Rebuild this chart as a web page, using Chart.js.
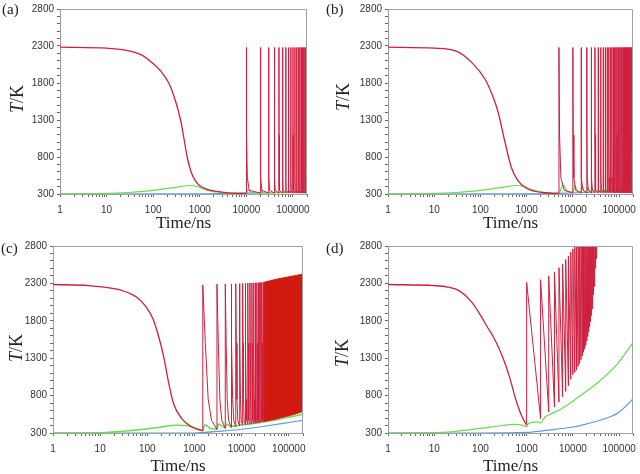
<!DOCTYPE html>
<html>
<head>
<meta charset="utf-8">
<script src="https://cdn.jsdelivr.net/npm/chart.js@4.4.0/dist/chart.umd.min.js"></script>
<style>
  html, body { margin: 0; padding: 0; background: #fff; }
  #wrap { position: relative; width: 640px; height: 474px; overflow: hidden; }
  canvas { position: absolute; }
  .tag { position: absolute; font: 15px "Liberation Serif", serif; color: #222; line-height: 15px; }
</style>
</head>
<body>
<div id="wrap">
  <canvas id="cA" width="320" height="237" style="left:0;top:0"></canvas>
  <canvas id="cB" width="320" height="237" style="left:320px;top:0"></canvas>
  <canvas id="cC" width="320" height="237" style="left:0;top:237px"></canvas>
  <canvas id="cD" width="320" height="237" style="left:320px;top:237px"></canvas>
  <div class="tag" style="left:2px;top:2px">(a)</div>
  <div class="tag" style="left:326px;top:2px">(b)</div>
  <div class="tag" style="left:1px;top:241px">(c)</div>
  <div class="tag" style="left:326px;top:241px">(d)</div>
</div>
<script>
// ── Data (time in ns, T in K) ──────────────────────────────
const yTicks = [300, 800, 1300, 1800, 2300, 2800];
const xLabels = [1, 10, 100, 1000, 10000, 100000];

// (a)
const mainTA = [1, 10, 30, 60, 100, 150, 216, 300, 387, 460, 536, 650, 800, 1000, 1500, 2400, 4000, 9990];
const mainA  = [2285, 2270, 2235, 2170, 2060, 1950, 1800, 1560, 1300, 1040, 800, 600, 480, 410, 360, 335, 315, 308];
const spikeTA = [10000, 20000, 30000, 40000, 50000, 60000, 70000, 80000, 90000, 100000,
                 110000, 120000, 130000, 140000, 150000, 160000, 170000, 180000, 190000, 200000];
const peakA = 2280;
const baseA = 312;
const greenTA = [1, 5, 30, 100, 300, 600, 900, 1300, 2000, 4000, 9990, 10800, 13000, 20000, 21000, 23000, 200000];
const greenA  = [300, 305, 320, 350, 390, 415, 400, 360, 330, 315, 310, 360, 318, 315, 350, 318, 325];
const blueTA = [1, 1000, 3000, 10000, 50000, 200000];
const blueA  = [300, 301, 305, 312, 322, 338];

// (b)
const mainTB = [1, 10, 30, 66, 126, 180, 240, 336, 465, 640, 1000, 2400, 4990];
const mainB  = [2285, 2270, 2230, 2072, 1851, 1640, 1411, 1014, 661, 485, 375, 317, 308];
const spikeTB = [5000, 10000, 15000, 20000, 25000, 30000, 35000, 40000, 45000, 50000,
                 55000, 60000, 65000, 70000, 75000, 80000, 85000, 90000, 95000, 100000,
                 105000, 110000, 115000, 120000, 125000, 130000, 135000, 140000, 145000, 150000,
                 155000, 160000, 165000, 170000, 175000, 180000, 185000, 190000, 195000, 200000];
const peakB = 2280;
const baseB = 315;
const greenTB = [1, 5, 30, 100, 300, 600, 900, 1300, 2000, 4000, 5000, 6100, 7500, 10000, 11000, 12500,
                 15000, 16000, 17500, 20000, 21000, 23000, 30000, 60000, 200000];
const greenB  = [300, 305, 320, 350, 390, 415, 400, 360, 330, 312, 310, 420, 340, 325, 420, 340,
                 330, 400, 340, 330, 390, 340, 345, 350, 355];
const blueTB = [1, 1000, 5000, 20000, 60000, 200000];
const blueB  = [300, 301, 308, 320, 335, 352];

// spike tail shape for (a) and (b): ns after the spike, K
const tailOffAB = [150, 500, 1500];
const tailAB    = [1100, 520, 350];

// (c)
const mainTC = [1, 5.7, 27, 60, 95, 131, 178, 225, 287, 360, 536, 855, 1200, 1500];
const mainC  = [2285, 2270, 2212, 2116, 1984, 1830, 1567, 1304, 954, 690, 493, 383, 345, 330];
const spikeTC = [1500, 3000, 4500, 6000, 7500, 9000, 10500, 12000, 13500, 15000,
                 16500, 18000, 19500, 21000, 22500, 24000, 25500, 27000, 28500, 30000];
const peakC = [2280, 2290, 2292, 2294, 2296, 2298, 2300, 2302, 2304, 2305,
               2306, 2307, 2308, 2309, 2310, 2311, 2312, 2313, 2314, 2315];
const minC  = [330, 348, 360, 372, 385, 395, 405, 410, 415, 420,
               424, 428, 432, 435, 438, 441, 444, 447, 450, 453];
const tailOffC = [200, 450, 800];
const tailC    = [1500, 750, 470];
const bandTC   = [30000, 40000, 60000, 80000, 100000, 140000, 200000];
const bandTopC = [2315, 2335, 2362, 2376, 2388, 2405, 2425];
const bandBotC = [453, 470, 495, 515, 530, 555, 590];
const greenTC = [1, 10, 40, 150, 400, 800, 1200, 1500, 1650, 2200, 3000, 3200, 4500, 4700, 6000,
                 10000, 20000, 30000, 60000, 100000, 200000];
const greenC  = [300, 305, 330, 370, 405, 395, 355, 330, 410, 360, 350, 420, 370, 420, 390,
                 410, 430, 450, 480, 510, 550];
const blueTC = [1, 1000, 1500, 3000, 10000, 30000, 100000, 200000];
const blueC  = [300, 300, 305, 320, 350, 390, 440, 470];

// (d)
const mainTD = [1, 10, 20, 35, 63, 100, 140, 200, 310, 430, 550, 700, 850, 1000];
const mainD  = [2285, 2270, 2250, 2200, 2060, 1875, 1720, 1560, 1300, 1040, 800, 600, 480, 405];
const spikeTD = [1000, 2000, 3000, 4000, 5000, 6000, 7000, 8000, 9000, 10000,
                 11000, 12000, 13000, 14000, 15000, 16000, 17000, 18000, 19000, 20000,
                 21000, 22000, 23000, 24000, 25000, 26000, 27000, 28000, 29000, 30000,
                 31000, 32000, 33000, 34000, 35000];
const peakD = [2313, 2349, 2401, 2454, 2510, 2554, 2620, 2664, 2717, 2760,
               2810, 2860, 2910, 2960, 3010, 3060, 3110, 3160, 3210, 3260,
               3310, 3360, 3410, 3460, 3510, 3560, 3610, 3660, 3710, 3760,
               3810, 3860, 3910, 3960, 4010];
const minD  = [405, 493, 580, 646, 712, 786, 856, 931, 1019, 1080,
               1110, 1140, 1190, 1230, 1280, 1330, 1380, 1420, 1470, 1530,
               1590, 1650, 1720, 1790, 1870, 1960, 2050, 2150, 2260, 2380,
               2500, 2630, 2770, 2900, 3050];
const greenTD = [1, 10, 24, 100, 300, 500, 800, 1000, 1100, 1300, 1700, 2000, 2500, 3000,
                 5700, 13000, 31600, 90000, 200000];
const greenD  = [300, 305, 317, 361, 400, 414, 405, 383, 430, 440, 450, 435, 514, 540,
                 624, 777, 954, 1217, 1510];
const blueTD = [1, 100, 1000, 3000, 10000, 16000, 30000, 60000, 90000, 130000, 200000];
const blueD  = [300, 300, 308, 339, 380, 405, 450, 510, 559, 640, 756];

// ── Helpers ───────────────────────────────────────────────
const RED = '#cf1f3e', RED_FILL = '#d31a10', GREEN = '#66dd50', BLUE = '#5b9bd8';

const pts = (xs, ys) => xs.map((x, i) => ({ x, y: ys[i] }));
const pick = (v, k) => Array.isArray(v) ? v[k] : v;

function spikeTrain(times, peaks, mins, offs, vals) {
  const out = [];
  times.forEach((t, k) => {
    out.push({ x: t, y: pick(mins, k) });
    out.push({ x: t, y: pick(peaks, k) });
    offs.forEach((o, j) => out.push({ x: t + o, y: vals[j] }));
  });
  return out;
}

const line = (data, color, width, smooth) => ({
  data, borderColor: color, borderWidth: width, pointRadius: 0, fill: false,
  tension: smooth ? 0.4 : 0, cubicInterpolationMode: smooth ? 'monotone' : 'default'
});

const isPow10 = v => xLabels.includes(v);

const framePlugin = {
  id: 'frame',
  afterDraw(chart) {
    const { ctx, chartArea: a } = chart;
    const o = chart.options.plugins.frame;
    ctx.save();
    ctx.strokeStyle = '#a0a0a0';
    ctx.lineWidth = 1;
    ctx.beginPath();
    ctx.moveTo(a.left, a.top + 0.5);
    ctx.lineTo(a.right - 0.5, a.top + 0.5);
    ctx.lineTo(a.right - 0.5, a.bottom);
    ctx.stroke();
    // y title: italic T, upright /K
    ctx.translate(o.tx, o.ty);
    ctx.rotate(-Math.PI / 2);
    ctx.fillStyle = '#222';
    ctx.textBaseline = 'middle';
    const fi = 'italic 18px "Liberation Serif"', fn = '18px "Liberation Serif"';
    ctx.font = fi; const w1 = ctx.measureText('T').width;
    ctx.font = fn; const w2 = ctx.measureText('/K').width;
    let x0 = -(w1 + w2) / 2;
    ctx.font = fi; ctx.textAlign = 'left'; ctx.fillText('T', x0, 0);
    ctx.font = fn; ctx.fillText('/K', x0 + w1, 0);
    ctx.restore();
  }
};

function makePanel(id, p, datasets) {
  new Chart(document.getElementById(id), {
    type: 'line',
    data: { datasets },
    options: {
      responsive: false,
      animation: false,
      parsing: false,
      layout: { padding: { top: p.top, right: p.right, left: 0, bottom: 0 } },
      plugins: {
        legend: { display: false },
        tooltip: { enabled: false },
        frame: { tx: p.tx, ty: p.ty }
      },
      scales: {
        x: {
          type: 'logarithmic', min: 1, max: 200000,
          afterBuildTicks: s => {
            s.ticks = s.ticks.filter(t => {
              const e = Math.pow(10, Math.floor(Math.log10(t.value) + 1e-9));
              const m = t.value / e;
              return Math.abs(m - Math.round(m)) < 1e-6;
            });
          },
          afterFit: s => { s.height = p.xh; },
          grid: { drawOnChartArea: false, tickLength: 3, color: '#666' },
          border: { color: '#a0a0a0' },
          ticks: {
            autoSkip: false, maxRotation: 0, padding: 7, color: '#333',
            font: { family: 'Liberation Sans', size: 10 },
            callback: v => isPow10(v) ? String(v) : ''
          },
          title: {
            display: true, text: 'Time/ns', color: '#222',
            font: { family: 'Liberation Serif', size: 17, lineHeight: 1 },
            padding: { top: 0, bottom: p.tpad }
          }
        },
        y: {
          min: 300, max: 2800,
          afterFit: s => { s.width = p.yw; },
          grid: { drawOnChartArea: false, tickLength: 3, color: '#666' },
          border: { color: '#a0a0a0' },
          ticks: {
            stepSize: 100, maxTicksLimit: 30, autoSkip: false, padding: 3, color: '#333',
            font: { family: 'Liberation Sans', size: 10 },
            callback: v => yTicks.includes(v) ? String(v) : ''
          }
        }
      }
    },
    plugins: [framePlugin]
  });
}

// ── Panels ────────────────────────────────────────────────
makePanel('cA', { top: 5, right: 13, xh: 43, yw: 60, tpad: 5, tx: 18, ty: 99 }, [
  line(spikeTrain(spikeTA, peakA, baseA, tailOffAB, tailAB), RED, 1, false),
  line(pts(mainTA, mainA), RED, 1.3, true),
  line(pts(greenTA, greenA), GREEN, 1.2, true),
  line(pts(blueTA, blueA), BLUE, 1.2, true)
]);

makePanel('cB', { top: 5, right: 3, xh: 43, yw: 68, tpad: 5, tx: 24, ty: 97 }, [
  line(spikeTrain(spikeTB, peakB, baseB, tailOffAB, tailAB), RED, 1, false),
  line(pts(mainTB, mainB), RED, 1.3, true),
  line(pts(greenTB, greenB), GREEN, 1.2, true),
  line(pts(blueTB, blueB), BLUE, 1.2, true)
]);

makePanel('cC', { top: 6, right: 17, xh: 41, yw: 53, tpad: -1.5, tx: 17, ty: 111 }, [
  { ...line(pts(bandTC, bandTopC), RED_FILL, 1, false), fill: '+1', backgroundColor: RED_FILL },
  line(pts(bandTC, bandBotC), RED_FILL, 1, false),
  line(spikeTrain(spikeTC, peakC, minC, tailOffC, tailC), RED, 1, false),
  line(pts(mainTC, mainC), RED, 1.3, true),
  line(pts(greenTC, greenC), GREEN, 1.5, true),
  line(pts(blueTC, blueC), BLUE, 1.2, true)
]);

makePanel('cD', { top: 6, right: 4, xh: 41, yw: 68, tpad: -1.5, tx: 23, ty: 116 }, [
  line(spikeTrain(spikeTD, peakD, minD, [], []), RED, 1, false),
  line(pts(mainTD, mainD), RED, 1.3, true),
  line(pts(greenTD, greenD), GREEN, 1.2, true),
  line(pts(blueTD, blueD), BLUE, 1.2, true)
]);
</script>
</body>
</html>
